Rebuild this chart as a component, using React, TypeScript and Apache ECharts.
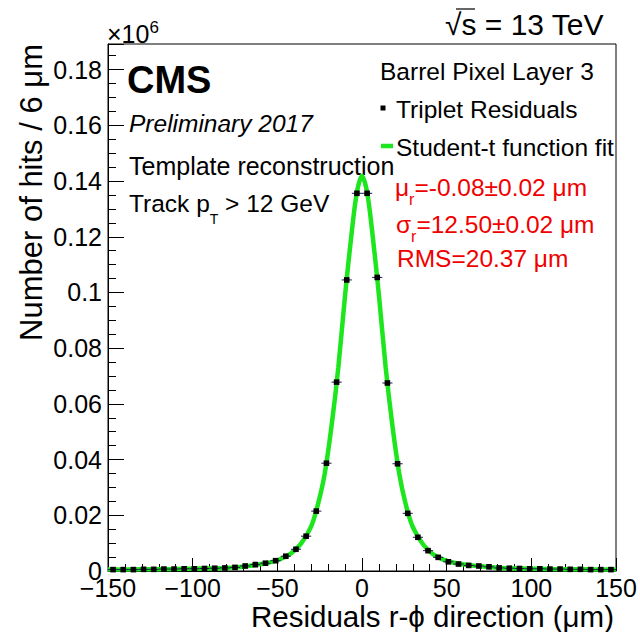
import React, { useEffect, useRef } from 'react';
import * as echarts from 'echarts';

// Bin centres (µm) of the 6 µm wide histogram bins
const binCenters = [
  -147, -141, -135, -129, -123, -117, -111, -105, -99, -93, -87, -81, -75, -69, -63, -57, -51, -45, -39, -33, -27, -21, -15, -9, -3,
  3, 9, 15, 21, 27, 33, 39, 45, 51, 57, 63, 69, 75, 81, 87, 93, 99, 105, 111, 117, 123, 129, 135, 141, 147,
];
// Hits per bin (×10^6)
const hitCounts = [
  0.0005, 0.0005, 0.0005, 0.0006, 0.0006, 0.0007, 0.0007, 0.0008, 0.0008, 0.0009, 0.0010, 0.0011, 0.0013, 0.0018, 0.0023, 0.0028, 0.0037, 0.0053, 0.0078, 0.0125, 0.0215, 0.0387, 0.0678, 0.1045, 0.1356,
  0.1356, 0.1054, 0.0675, 0.0385, 0.0207, 0.0121, 0.0073, 0.0049, 0.0033, 0.0025, 0.0020, 0.0018, 0.0015, 0.0011, 0.0010, 0.0009, 0.0008, 0.0008, 0.0007, 0.0007, 0.0006, 0.0006, 0.0005, 0.0005, 0.0005,
];
const binHalfWidth = 3;

// Student-t fit curve
const fitX = [-150, -130, -110, -95, -85, -75, -65, -55, -48, -42, -36, -30, -26, -22, -18, -14, -10, -6, -3, 0, 3, 6, 10, 14, 18, 22, 26, 30, 36, 42, 48, 55, 65, 75, 85, 95, 110, 130, 150];
const fitY = [0.0005, 0.0006, 0.0007, 0.0009, 0.0010, 0.0013, 0.0020, 0.0030, 0.0043, 0.0063, 0.0098, 0.0160, 0.0240, 0.0350, 0.0520, 0.0730, 0.0990, 0.1220, 0.1360, 0.1418, 0.1360, 0.1220, 0.0990, 0.0730, 0.0520, 0.0350, 0.0235, 0.0158, 0.0096, 0.0060, 0.0041, 0.0029, 0.0020, 0.0014, 0.0010, 0.0009, 0.0007, 0.0006, 0.0005];

const X_MIN = -150;
const X_MAX = 150;
const X_STEP = 50;
const Y_MIN = 0;
const Y_MAX = 0.1892;
const Y_STEP = 0.02;
const Y_MINOR_STEP = 0.005;

const FONT = '"Liberation Sans", Arial, Helvetica, sans-serif';
const GREEN = '#1ee61e';
const RED = '#f00000';

function yLabel(v: number): string {
  const k = v / Y_STEP;
  if (Math.abs(k - Math.round(k)) > 1e-6) return '';
  const r = Math.round(v * 100) / 100;
  return r === 0 ? '0' : String(r);
}
function xLabel(v: number): string {
  return v < 0 ? '\u2212' + Math.abs(v) : String(v);
}

function txt(x: number, y: number, text: string, fontSize: number, extra: any = {}) {
  return {
    type: 'text',
    x,
    y,
    silent: true,
    style: {
      text,
      fontSize,
      fontFamily: FONT,
      fill: '#000',
      align: 'left',
      textAlign: 'left',
      verticalAlign: 'middle',
      textVerticalAlign: 'middle',
      ...extra,
    },
  };
}

export default function App() {
  const ref = useRef<HTMLDivElement>(null);
  useEffect(() => {
    const chart = echarts.init(ref.current!, null, { renderer: 'svg' });
    const points = binCenters.map((x, i) => [x, hitCounts[i]]);
    const curve = fitX.map((x, i) => [x, fitY[i]]);

    const sub = (size: number, lh: number, color: string) => ({
      m: { fontSize: 24.5, fontFamily: FONT, fill: color, lineHeight: lh },
      s: { fontSize: size, fontFamily: FONT, fill: color, lineHeight: size, verticalAlign: 'bottom' },
    });

    const option: any = {
      animation: false,
      backgroundColor: '#fff',
      grid: {
        left: 108,
        right: 24,
        top: 44,
        bottom: 61,
        show: true,
        borderColor: '#000',
        borderWidth: 1,
        backgroundColor: 'transparent',
        containLabel: false,
      },
      xAxis: {
        type: 'value',
        min: X_MIN,
        max: X_MAX,
        interval: X_STEP,
        axisLine: { show: true, onZero: false, lineStyle: { color: '#000', width: 1 } },
        axisTick: { show: true, inside: true, length: 13, lineStyle: { color: '#000', width: 1 } },
        minorTick: { show: true, splitNumber: 5, length: 7, lineStyle: { color: '#000', width: 1 } },
        splitLine: { show: false },
        minorSplitLine: { show: false },
        axisLabel: { fontSize: 25, color: '#000', fontFamily: FONT, margin: 4, formatter: xLabel },
      },
      yAxis: [
        {
          type: 'value',
          min: Y_MIN,
          max: Y_MAX,
          interval: Y_STEP,
          axisLine: { show: true, onZero: false, lineStyle: { color: '#000', width: 1 } },
          axisTick: { show: true, inside: true, length: 16, lineStyle: { color: '#000', width: 1 } },
          splitLine: { show: false },
          axisLabel: { fontSize: 25, color: '#000', fontFamily: FONT, margin: 6, formatter: yLabel },
        },
        {
          type: 'value',
          position: 'left',
          min: Y_MIN,
          max: Y_MAX,
          interval: Y_MINOR_STEP,
          axisLine: { show: false, onZero: false },
          axisTick: { show: true, inside: true, length: 8, lineStyle: { color: '#000', width: 1 } },
          splitLine: { show: false },
          axisLabel: { show: false },
        },
      ],
      series: [
        {
          type: 'line',
          data: curve,
          showSymbol: false,
          symbol: 'none',
          smooth: 0.3,
          lineStyle: { color: GREEN, width: 4.5 },
          z: 2,
          silent: true,
        },
        {
          type: 'custom',
          data: points,
          z: 3,
          silent: true,
          renderItem: (params: any, api: any) => {
            const x = api.value(0);
            const y = api.value(1);
            const c = api.coord([x, y]);
            const l = api.coord([x - binHalfWidth, y]);
            const r = api.coord([x + binHalfWidth, y]);
            return {
              type: 'group',
              children: [
                {
                  type: 'line',
                  shape: { x1: l[0], y1: c[1], x2: r[0], y2: c[1] },
                  style: { stroke: '#1a1a50', lineWidth: 1 },
                },
                {
                  type: 'rect',
                  shape: { x: c[0] - 2.8, y: c[1] - 2.8, width: 5.6, height: 5.6 },
                  style: { fill: '#000' },
                },
              ],
            };
          },
        },
      ],
      graphic: {
        elements: [
          // ×10^6
          {
            type: 'text', x: 107, y: 34, silent: true,
            style: {
              text: '{m|×10}{p|6}',
              align: 'left', textAlign: 'left', verticalAlign: 'middle', textVerticalAlign: 'middle',
              rich: {
                m: { fontSize: 25, fontFamily: FONT, fill: '#000', lineHeight: 30 },
                p: { fontSize: 17, fontFamily: FONT, fill: '#000', lineHeight: 17, verticalAlign: 'top' },
              },
            },
          },
          // sqrt(s) = 13 TeV
          txt(445, 24, '√s = 13 TeV', 30),
          {
            type: 'line', silent: true,
            shape: { x1: 456, y1: 9, x2: 475, y2: 9 },
            style: { stroke: '#000', lineWidth: 1.2 },
          },
          // Left block
          txt(127, 80, 'CMS', 38, { fontWeight: 'bold' }),
          txt(129, 123, 'Preliminary 2017', 24.5, { fontStyle: 'italic' }),
          txt(129, 166, 'Template reconstruction', 25),
          {
            type: 'text', x: 129, y: 203, silent: true,
            style: {
              text: '{m|Track p}{s|T}{m| > 12 GeV}',
              align: 'left', textAlign: 'left', verticalAlign: 'middle', textVerticalAlign: 'middle',
              rich: {
                m: { fontSize: 24.5, fontFamily: FONT, fill: '#000', lineHeight: 46 },
                s: { fontSize: 14, fontFamily: FONT, fill: '#000', lineHeight: 14, verticalAlign: 'bottom' },
              },
            },
          },
          // Right block / legend
          txt(380, 71, 'Barrel Pixel Layer 3', 24.5),
          {
            type: 'rect', silent: true,
            shape: { x: 380.5, y: 105.5, width: 5, height: 5 },
            style: { fill: '#000' },
          },
          txt(396, 109, 'Triplet Residuals', 24.5),
          {
            type: 'line', silent: true,
            shape: { x1: 381, y1: 146, x2: 393, y2: 146 },
            style: { stroke: GREEN, lineWidth: 4.5 },
          },
          txt(396, 147, 'Student-t function fit', 24.5),
          {
            type: 'text', x: 395, y: 187, silent: true,
            style: {
              text: '{m|μ}{s|r}{m|=-0.08±0.02 μm}',
              align: 'left', textAlign: 'left', verticalAlign: 'middle', textVerticalAlign: 'middle',
              rich: sub(16, 40, RED),
            },
          },
          {
            type: 'text', x: 396, y: 224, silent: true,
            style: {
              text: '{m|σ}{s|r}{m|=12.50±0.02 μm}',
              align: 'left', textAlign: 'left', verticalAlign: 'middle', textVerticalAlign: 'middle',
              rich: sub(16, 40, RED),
            },
          },
          txt(397, 258, 'RMS=20.37 μm', 24.5, { fill: RED }),
          // Axis titles
          {
            type: 'text', x: 31, y: 44, rotation: Math.PI / 2, silent: true,
            style: {
              text: 'Number of hits / 6 μm',
              fontSize: 31, fontFamily: FONT, fill: '#000',
              align: 'right', textAlign: 'right', verticalAlign: 'middle', textVerticalAlign: 'middle',
            },
          },
          {
            type: 'text', x: 614, y: 616, silent: true,
            style: {
              text: 'Residuals r-ϕ direction (μm)',
              fontSize: 29.5, fontFamily: FONT, fill: '#000',
              align: 'right', textAlign: 'right', verticalAlign: 'middle', textVerticalAlign: 'middle',
            },
          },
        ],
      },
    };
    chart.setOption(option);
    return () => chart.dispose();
  }, []);
  return (
    <div
      ref={ref}
      style={{ position: 'fixed', left: 0, top: 0, width: 640, height: 632, background: '#fff' }}
    />
  );
}
